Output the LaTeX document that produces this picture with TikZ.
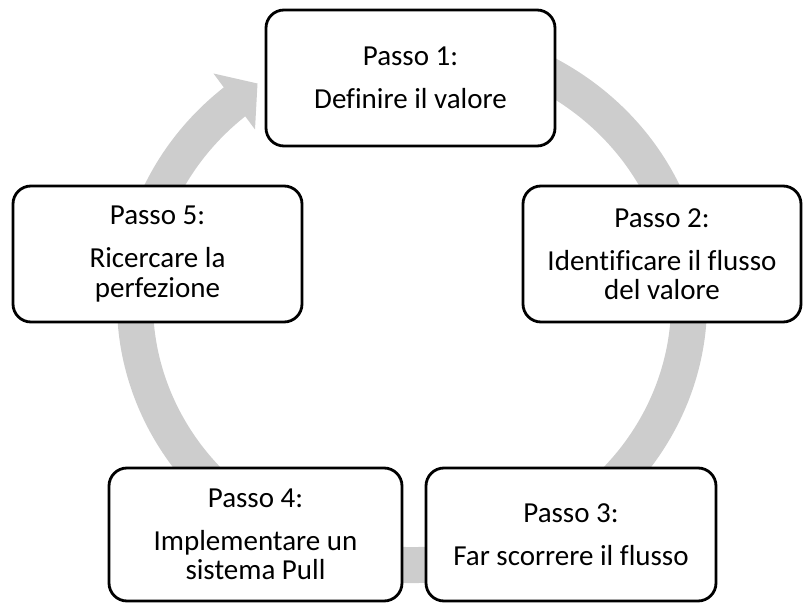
\documentclass[tikz,border=0pt]{standalone}
\usepackage{fontspec}
\setmainfont{Carlito}[Ligatures=NoCommon]
\usetikzlibrary{calc}
\definecolor{ringgray}{RGB}{205,205,205}
\tikzset{
  stepbox/.style={draw=black, line width=2.8pt, fill=white, rounded corners=18pt,
    inner sep=0pt, outer sep=0pt, align=center,
    font=\fontsize{29}{29.5}\selectfont},
  ring/.style={draw=ringgray, line width=36pt},
}
\begin{document}
\begin{tikzpicture}[x=1pt,y=1pt]
  \useasboundingbox (0,0) rectangle (804,-604);
  % circular flow band behind the steps
  \coordinate (ctr) at (412,-303);
  \coordinate (ringstart) at ($(ctr)+(110:277pt and 262pt)$);
  \draw[ring] (ringstart) arc[start angle=110, end angle=-231.5, x radius=277pt, y radius=262pt];
  % arrow head closing the cycle into step 1
  \coordinate (barbA) at (213.5,-73.5);
  \coordinate (tip) at (257.5,-83.5);
  \coordinate (barbB) at (255,-129.5);
  \fill[ringgray] (barbA) -- (tip) -- (barbB) -- cycle;
  % the five steps
  \node[stepbox, minimum width=289pt, minimum height=136pt] (s1) at (410.5,-78)
    {Passo 1:\\[13.5pt]Definire il valore};
  \node[stepbox, minimum width=278pt, minimum height=136pt] (s2) at (662,-254)
    {Passo 2:\\[13.5pt]Identificare il flusso\\del valore};
  \node[stepbox, minimum width=290pt, minimum height=133pt] (s3) at (571,-534.5)
    {Passo 3:\\[13.5pt]Far scorrere il flusso};
  \node[stepbox, minimum width=293pt, minimum height=133pt] (s4) at (255.5,-534.5)
    {Passo 4:\\[13.5pt]Implementare un\\sistema Pull};
  \node[stepbox, minimum width=289pt, minimum height=136pt] (s5) at (157.5,-254)
    {Passo 5:\\[13.5pt]Ricercare la\\perfezione};
\end{tikzpicture}
\end{document}
